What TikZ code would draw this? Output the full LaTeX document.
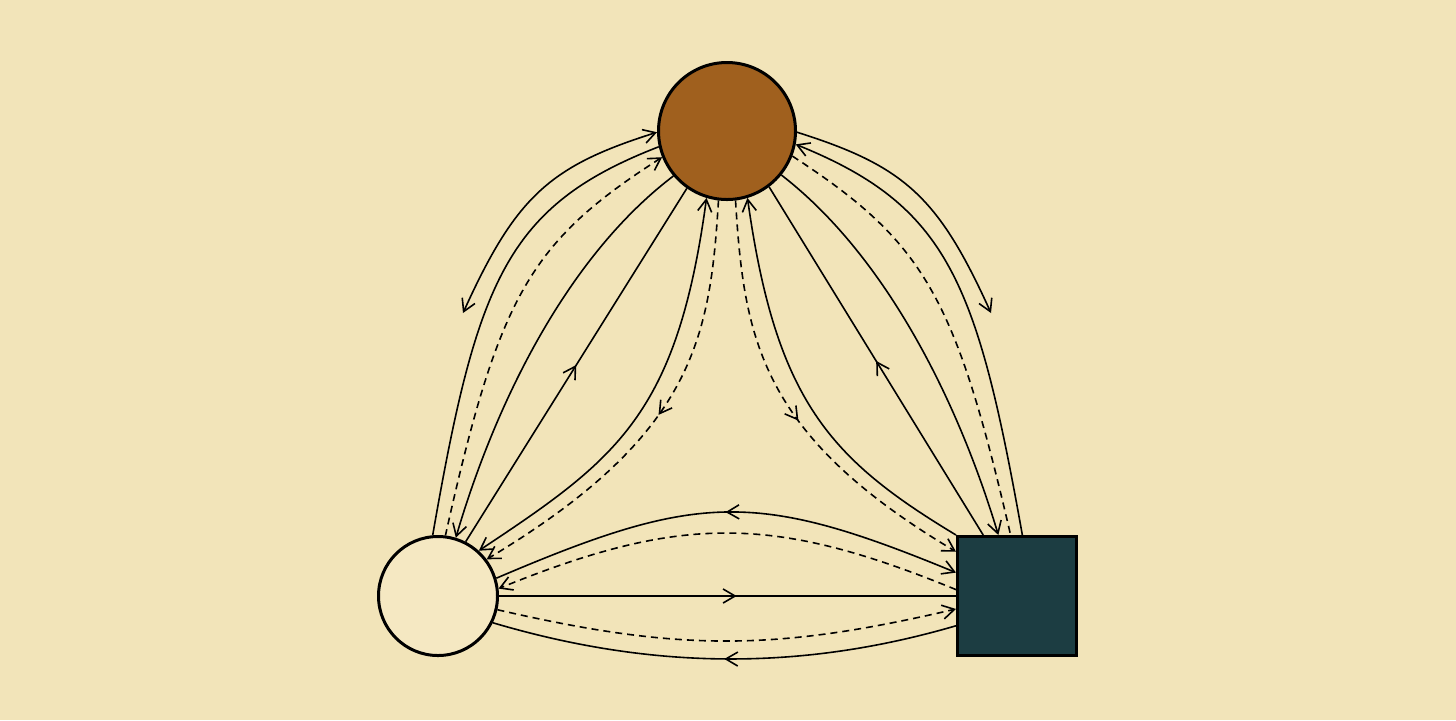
\documentclass[tikz,border=0pt]{standalone}
\usetikzlibrary{arrows.meta,decorations.markings}
\definecolor{bg}{HTML}{F2E4B9}
\definecolor{topfill}{HTML}{A0601E}
\definecolor{leftfill}{HTML}{F5E8C2}
\definecolor{sqfill}{HTML}{1C3D42}
\tikzset{
  conn/.style={line width=0.8pt, draw=black},
  dsh/.style={dash pattern=on 3.5pt off 2.5pt},
  nodebox/.style={draw=black, line width=1.5pt, inner sep=0pt},
  midfwd/.style={postaction={decorate}, decoration={markings,
      mark=at position #1 with {\pgfsetdash{}{0pt}\arrow{>}}}},
  midfwd/.default=0.5,
  midback/.style={postaction={decorate}, decoration={markings,
      mark=at position #1 with {\pgfsetdash{}{0pt}\arrowreversed{>}}}},
  midback/.default=0.5,
}
\begin{document}
\begin{tikzpicture}[x=0.5pt,y=-0.5pt,>={Straight Barb[length=6pt,width=7pt]}]
\fill[bg] (0,0) rectangle (1456,720);
\useasboundingbox (0,0) rectangle (1456,720);

\node[nodebox, circle, fill=topfill, minimum size=68.5pt] (T) at (727,131) {};
\node[nodebox, circle, fill=leftfill, minimum size=59.5pt] (L) at (438,596) {};
\node[nodebox, rectangle, fill=sqfill, minimum size=59.5pt] (R) at (1017,596) {};

\coordinate (A) at (463,313);
\coordinate (B) at (991,313);

% left side: T -- L
\draw[conn,<->] (A) .. controls (516,196) and (550,166) .. (T.181);
\draw[conn] (T.193) .. controls (506,206) and (477,281) .. (L.95);
\draw[conn,dsh,<-] (T.202) .. controls (530,242) and (499,295) .. (L.83.5);
\draw[conn,->] (T.220) .. controls (568,256) and (496,401) .. (L.73);
\draw[conn,midfwd] (L.63) -- (T.235);
\draw[conn,<->] (T.253) .. controls (677,415) and (617,459) .. (L.48.6);
\draw[conn,dsh,->,midfwd=0.5] (T.263) .. controls (710,339) and (694,435) .. (L.37);

% right side: T -- R
\draw[conn,->] (T.359) .. controls (904,166) and (938,196) .. (B);
\draw[conn,->] (R.85.3) .. controls (977,281) and (948,206) .. (T.349);
\draw[conn,dsh] (T.339) .. controls (924,242) and (955,295) .. (R.96.5);
\draw[conn,->] (T.321) .. controls (886,256) and (958,401) .. (R.107.3);
\draw[conn,midfwd] (R.119.1) -- (T.307);
\draw[conn,->] (R.135) .. controls (830,459) and (776,401) .. (T.287);
\draw[conn,dsh,->,midfwd=0.53] (T.277) .. controls (744,339) and (760,435) .. (R.144.8);

% bottom: L -- R
\draw[conn,->,midback] (L.17.6) .. controls (698,492) and (756,490) .. (R.159.3);
\draw[conn,dsh,->] (R.174.4) .. controls (774,515) and (682,514) .. (L.7.4);
\draw[conn,midfwd=0.52] (L.0) -- (R.180);
\draw[conn,dsh,->] (L.-13.6) .. controls (681,652) and (775,651) .. (R.192.9);
\draw[conn,midback] (L.-26) .. controls (652,670) and (801,671) .. (R.206.2);
\end{tikzpicture}
\end{document}
